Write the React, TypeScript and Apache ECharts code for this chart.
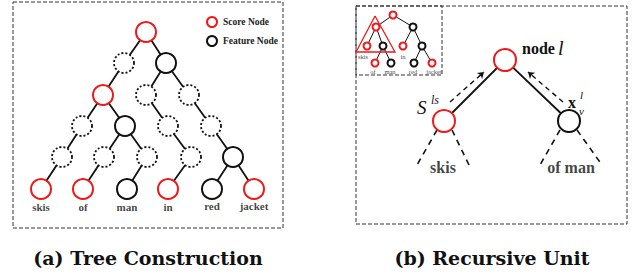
import React, { useEffect, useRef } from "react";
import * as echarts from "echarts";

// ---------- Panel (a): tree construction ----------
const treeNodeX = [146, 124, 166, 103, 146, 189, 82, 125, 168, 211, 62, 104, 147, 191, 233, 41, 83, 127, 168, 212, 254];
const treeNodeY = [32, 63, 63, 95, 95, 95, 126, 126, 126, 126, 157, 157, 157, 157, 157, 189, 189, 189, 189, 189, 189];
const treeNodeKind = ["score", "hidden", "feature", "score", "hidden", "hidden", "hidden", "feature", "hidden", "hidden", "hidden", "hidden", "hidden", "hidden", "feature", "score", "score", "feature", "score", "feature", "score"];
const treeEdges = [[0, 1], [1, 3], [3, 6], [6, 10], [10, 15], [3, 7], [7, 11], [11, 16], [7, 12], [12, 17], [0, 2], [2, 4], [4, 8], [8, 13], [13, 18], [2, 5], [5, 9], [9, 14], [14, 19], [14, 20]];
const treeWords = ["skis", "of", "man", "in", "red", "jacket"];
const treeWordX = [41, 83, 127, 168, 212, 254];
const treeWordY = [207, 207, 207, 207, 206, 206];

// ---------- Panel (b): inset tree ----------
const insetNodeX = [393, 376, 413, 367, 383, 403, 422, 375, 391, 414, 432];
const insetNodeY = [15, 27, 27, 46, 46, 46, 46, 63, 63, 63, 63];
const insetNodeKind = ["score", "score", "feature", "score", "feature", "score", "feature", "score", "feature", "feature", "score"];
const insetEdges = [[0, 1], [0, 2], [1, 3], [1, 4], [4, 7], [4, 8], [2, 5], [2, 6], [6, 9], [6, 10]];
const insetWords = ["skis", "in", "of", "man", "red", "jacket"];
const insetWordX = [363, 403, 373, 390, 413, 434];
const insetWordY = [56, 56, 71, 71, 71, 71];
const insetTriangle = [[375, 16], [356, 52], [395, 52], [375, 16]];

// ---------- Panel (b): recursive unit ----------
const unitNodeX = [505, 444, 569];
const unitNodeY = [60, 121, 121];
const unitNodeKind = ["score", "score", "feature"];
const unitEdges = [[1, 0], [2, 0]];
const unitArrows = [[[450, 102], [484, 72]], [[563, 102], [528, 72]]];
const unitLegs = [[[437, 130], [417, 165]], [[452, 130], [469, 165]], [[560, 130], [540, 165]], [[577, 130], [602, 165]]];
const unitWords = ["skis", "of man"];
const unitWordX = [443, 571];
const unitWordY = [167, 167];

const RED = "#f01818";
const INK = "#111111";
const SERIF = '"Liberation Serif", serif';

function nodeItems(xs: number[], ys: number[], kinds: string[], kind: string, size: number) {
  const out: any[] = [];
  xs.forEach((x, i) => {
    if (kinds[i] === kind) out.push({ value: [x, ys[i]], symbolSize: size });
  });
  return out;
}

function edgeItems(xs: number[], ys: number[], edges: number[][]) {
  return edges.map(([a, b]) => ({ coords: [[xs[a], ys[a]], [xs[b], ys[b]]] }));
}

function wordItems(words: string[], xs: number[], ys: number[], size: number) {
  return words.map((w, i) => ({
    value: [xs[i], ys[i]],
    label: { show: true, formatter: w, fontSize: size },
  }));
}

function tx(text: string, x: number, y: number, font: string, extra: any = {}) {
  return { type: "text", z: 10, style: { text, x, y, font, fill: INK, verticalAlign: "middle", ...extra } };
}

export default function App() {
  const ref = useRef<HTMLDivElement>(null);
  useEffect(() => {
    if (!ref.current) return;
    const chart = echarts.init(ref.current, undefined, { renderer: "svg" });
    const scoreData = [
      ...nodeItems(treeNodeX, treeNodeY, treeNodeKind, "score", 20),
      ...nodeItems(insetNodeX, insetNodeY, insetNodeKind, "score", 7),
      ...nodeItems(unitNodeX, unitNodeY, unitNodeKind, "score", 22),
    ];
    const featureData = [
      ...nodeItems(treeNodeX, treeNodeY, treeNodeKind, "feature", 20),
      ...nodeItems(insetNodeX, insetNodeY, insetNodeKind, "feature", 7),
      ...nodeItems(unitNodeX, unitNodeY, unitNodeKind, "feature", 22),
    ];
    const hiddenData = nodeItems(treeNodeX, treeNodeY, treeNodeKind, "hidden", 20);
    const option: any = {
      animation: false,
      grid: { left: 0, right: 0, top: 0, bottom: 0 },
      xAxis: { type: "value", min: 0, max: 636, show: false },
      yAxis: { type: "value", min: 0, max: 274, inverse: true, show: false },
      legend: {
        data: ["Score Node", "Feature Node"],
        orient: "vertical",
        left: 201,
        top: 11,
        itemWidth: 10,
        itemHeight: 10,
        itemGap: 7,
        icon: "circle",
        selectedMode: false,
        textStyle: { fontFamily: SERIF, fontWeight: "bold", fontSize: 9.5, color: "#222", padding: [0, 0, 0, 1] },
      },
      series: [
        {
          type: "lines",
          coordinateSystem: "cartesian2d",
          z: 1,
          lineStyle: { color: INK, width: 1.8, opacity: 1 },
          data: [
            ...edgeItems(treeNodeX, treeNodeY, treeEdges),
            ...edgeItems(unitNodeX, unitNodeY, unitEdges),
          ],
        },
        {
          type: "lines",
          coordinateSystem: "cartesian2d",
          z: 1,
          lineStyle: { color: INK, width: 1, opacity: 1 },
          data: edgeItems(insetNodeX, insetNodeY, insetEdges),
        },
        {
          type: "lines",
          coordinateSystem: "cartesian2d",
          polyline: true,
          z: 1,
          lineStyle: { color: RED, width: 1.3, opacity: 1 },
          data: [{ coords: insetTriangle }],
        },
        {
          type: "lines",
          coordinateSystem: "cartesian2d",
          z: 1,
          symbol: ["none", "arrow"],
          symbolSize: 6,
          lineStyle: { color: INK, width: 1.4, type: [5, 4], opacity: 1 },
          data: unitArrows.map((c) => ({ coords: c })),
        },
        {
          type: "lines",
          coordinateSystem: "cartesian2d",
          z: 1,
          lineStyle: { color: INK, width: 1.6, type: [6, 5], opacity: 1 },
          data: unitLegs.map((c) => ({ coords: c })),
        },
        {
          name: "Score Node",
          type: "scatter",
          z: 3,
          symbol: "circle",
          itemStyle: { color: "#fff", borderColor: RED, borderWidth: 2, opacity: 1 },
          data: scoreData,
        },
        {
          name: "Feature Node",
          type: "scatter",
          z: 3,
          symbol: "circle",
          itemStyle: { color: "#fff", borderColor: INK, borderWidth: 2, opacity: 1 },
          data: featureData,
        },
        {
          name: "hidden",
          type: "scatter",
          z: 3,
          symbol: "circle",
          itemStyle: { color: "#fff", borderColor: INK, borderWidth: 1.8, borderType: [2, 2], opacity: 1 },
          data: hiddenData,
        },
        {
          name: "words",
          type: "scatter",
          z: 4,
          symbolSize: 0,
          label: { position: "inside", fontFamily: SERIF, fontWeight: "bold", color: INK },
          data: [
            ...wordItems(treeWords, treeWordX, treeWordY, 11),
            ...wordItems(unitWords, unitWordX, unitWordY, 16),
          ],
        },
        {
          name: "insetWords",
          type: "scatter",
          z: 4,
          symbolSize: 0,
          label: { position: "inside", fontFamily: SERIF, color: INK },
          data: wordItems(insetWords, insetWordX, insetWordY, 6.5),
        },
      ],
      graphic: [
        { type: "rect", shape: { x: 13, y: 2, width: 270, height: 226 }, style: { fill: "none", stroke: "#333", lineWidth: 1, lineDash: [4, 2] } },
        { type: "rect", shape: { x: 356, y: 6, width: 271, height: 218 }, style: { fill: "none", stroke: "#333", lineWidth: 1, lineDash: [4, 2] } },
        { type: "rect", shape: { x: 356, y: 6, width: 86, height: 69 }, style: { fill: "none", stroke: "#333", lineWidth: 1, lineDash: [4, 2] } },
        tx("node", 522, 48, 'bold 16px "Liberation Serif"'),
        tx("l", 558, 48, 'italic 20px "Liberation Serif"'),
        tx("S", 417, 107, 'italic 19px "Liberation Serif"'),
        tx("ls", 431, 100, 'italic 12px "Liberation Serif"'),
        tx("x", 568, 102.5, 'bold 16px "Liberation Serif"'),
        tx("l", 580, 95, 'italic 11px "Liberation Serif"'),
        tx("v", 579, 110.5, 'italic 11px "Liberation Serif"'),
        tx("(a) Tree Construction", 148, 258, 'bold 19px "DejaVu Serif"', { align: "center" }),
        tx("(b) Recursive Unit", 492, 258, 'bold 19px "DejaVu Serif"', { align: "center" }),
      ],
    };
    chart.setOption(option);
    return () => chart.dispose();
  }, []);
  return <div ref={ref} style={{ position: "absolute", left: 0, top: 0, width: 636, height: 274 }} />;
}
